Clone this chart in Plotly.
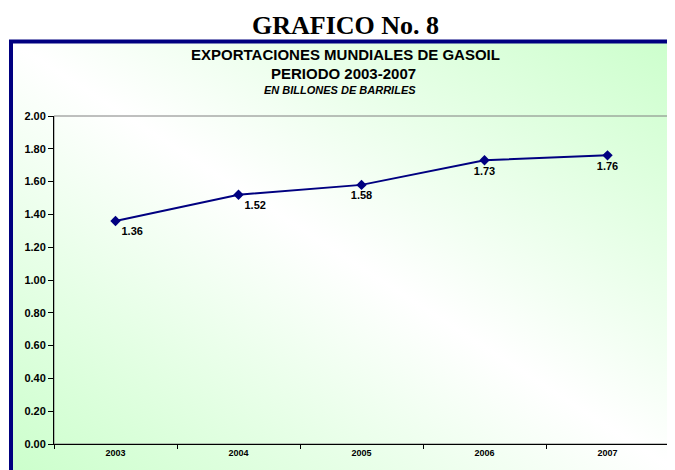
import base64
import plotly.graph_objects as go

years = ["2003", "2004", "2005", "2006", "2007"]
exports = [1.36, 1.52, 1.58, 1.73, 1.76]
labels = ["1.36", "1.52", "1.58", "1.73", "1.76"]
y_ticks = [0, 0.2, 0.4, 0.6, 0.8, 1.0, 1.2, 1.4, 1.6, 1.8, 2.0]
y_ticktext = ["0.00", "0.20", "0.40", "0.60", "0.80", "1.00", "1.20", "1.40", "1.60", "1.80", "2.00"]

W, H = 675, 470
OFF = 8  # page body margin
L, R, T, B = 54 - OFF, 675 - (669 - OFF), 116 - OFF, 470 - (444 - OFF)
PW, PH = W - L - R, H - T - B


def px(x):
    return (x - OFF - L) / PW


def py(y):
    return (H - B - (y - OFF)) / PH


svg = (
    '<svg xmlns="http://www.w3.org/2000/svg" width="100" height="100" viewBox="0 0 100 100" '
    'preserveAspectRatio="none"><defs><linearGradient id="g" x1="1" y1="0" x2="0" y2="1">'
    '<stop offset="0" stop-color="#ccffcc"/><stop offset="0.5" stop-color="#ffffff"/>'
    '<stop offset="1" stop-color="#ccffcc"/></linearGradient></defs>'
    '<rect x="0" y="0" width="100" height="100" fill="url(#g)"/></svg>'
)
src = "data:image/svg+xml;base64," + base64.b64encode(svg.encode()).decode()

fig = go.Figure()
fig.add_trace(go.Scatter(
    x=years, y=exports, mode="lines+markers+text",
    line=dict(color="#000080", width=2),
    marker=dict(symbol="diamond", size=8, color="#000080"),
    text=labels,
    textposition=["bottom right", "bottom right", "bottom center", "bottom center", "bottom center"],
    textfont=dict(family="Liberation Sans, Arial", size=11, color="#000000", weight="bold"),
    cliponaxis=False, hoverinfo="skip",
))

fig.update_layout(
    width=W, height=H,
    margin=dict(l=L, r=R, t=T, b=B),
    paper_bgcolor="white",
    plot_bgcolor="rgba(0,0,0,0)",
    showlegend=False,
    font=dict(family="Liberation Sans, Arial", color="#000000"),
    images=[dict(source=src, xref="paper", yref="paper",
                 x=px(13), y=py(43), sizex=px(675) - px(13), sizey=py(43) - py(470),
                 xanchor="left", yanchor="top", sizing="stretch", layer="below")],
    shapes=[
        dict(type="rect", xref="paper", yref="paper", x0=px(11), x1=px(W + 30),
             y0=py(41.5), y1=py(H + 30), line=dict(color="#000080", width=4),
             fillcolor="rgba(0,0,0,0)", layer="above"),
        dict(type="rect", xref="paper", yref="paper", x0=0, x1=1, y0=0, y1=1,
             line=dict(color="#808080", width=1), fillcolor="rgba(0,0,0,0)", layer="below"),
    ],
    annotations=[
        dict(text="<b>GRAFICO No. 8</b>", xref="paper", yref="paper", x=px(345), y=py(25),
             xanchor="center", yanchor="middle", showarrow=False, borderpad=0,
             font=dict(family="Liberation Serif, Times New Roman", size=26, color="#000000")),
        dict(text="<b>EXPORTACIONES MUNDIALES DE GASOIL</b>", xref="paper", yref="paper",
             x=px(345), y=py(55), xanchor="center", yanchor="middle", showarrow=False,
             font=dict(size=15, color="#000000")),
        dict(text="<b>PERIODO 2003-2007</b>", xref="paper", yref="paper",
             x=px(343), y=py(73), xanchor="center", yanchor="middle", showarrow=False,
             font=dict(size=15, color="#000000")),
        dict(text="<b><i>EN BILLONES DE BARRILES</i></b>", xref="paper", yref="paper",
             x=px(340), y=py(89.5), xanchor="center", yanchor="middle", showarrow=False,
             font=dict(size=11, color="#000000")),
    ],
)

fig.update_xaxes(
    type="category", range=[-0.5, 4.5], showgrid=False, zeroline=False,
    showline=True, linecolor="#000000", linewidth=1,
    ticks="outside", tickson="boundaries", ticklen=4, tickcolor="#000000",
    tickfont=dict(size=9, weight="bold", color="#000000"),
)
fig.update_yaxes(
    range=[0, 2], tickvals=y_ticks, ticktext=y_ticktext, showgrid=False, zeroline=False,
    showline=True, linecolor="#000000", linewidth=1,
    ticks="outside", ticklen=5, tickcolor="#000000",
    tickfont=dict(size=11, weight="bold", color="#000000"),
)

fig.write_html("out.html")
